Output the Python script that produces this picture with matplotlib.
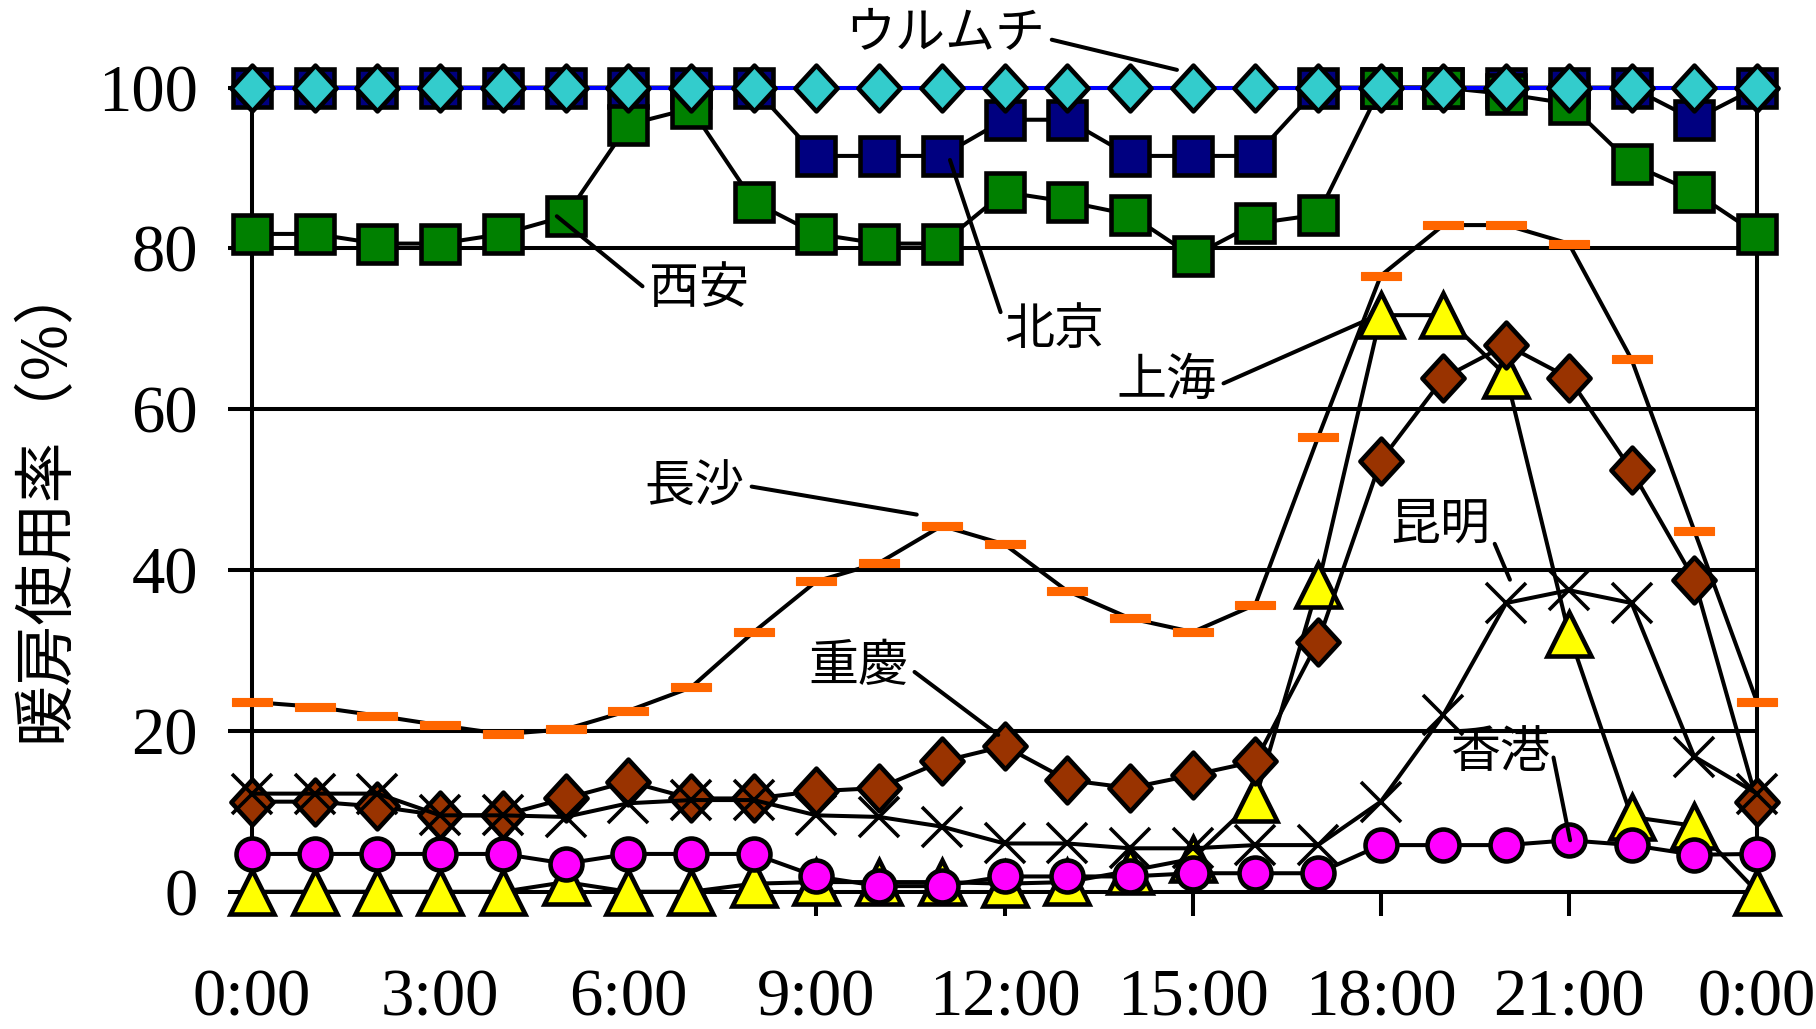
import matplotlib
matplotlib.use("Agg")
import matplotlib.pyplot as plt
from matplotlib.path import Path

# ─── DATA ────────────────────────────────────────────
hours = list(range(25))
tick_hours = [0, 3, 6, 9, 12, 15, 18, 21, 24]
tick_labels = ["0:00", "3:00", "6:00", "9:00", "12:00", "15:00", "18:00", "21:00", "0:00"]
y_ticks = [0, 20, 40, 60, 80, 100]

urumqi = [100, 100, 100, 100, 100, 100, 100, 100, 100, 100, 100, 100, 100,
          100, 100, 100, 100, 100, 100, 100, 100, 100, 100, 100, 100]
beijing = [100, 100, 100, 100, 100, 100, 100, 100, 100, 91.5, 91.5, 91.5, 96,
           96, 91.5, 91.5, 91.5, 100, 100, 100, 100, 100, 100, 96, 100]
xian = [81.8, 81.8, 80.6, 80.6, 81.8, 84.0, 95.4, 97.4, 85.8, 81.8, 80.6, 80.6, 87.0,
        85.8, 84.2, 79.0, 83.1, 84.2, 100, 100, 99.2, 98.0, 90.5, 87.0, 81.8]
changsha = [23.6, 23.0, 21.9, 20.7, 19.6, 20.2, 22.5, 25.4, 32.3, 38.6, 40.9, 45.5, 43.2,
            37.4, 34.0, 32.3, 35.7, 56.5, 76.6, 82.9, 82.9, 80.6, 66.2, 44.9, 23.6]
chongqing = [11.2, 11.2, 10.6, 9.5, 9.5, 11.6, 13.7, 11.6, 11.6, 12.5, 12.9, 16.2, 18.1,
             13.9, 12.9, 14.5, 16.2, 31.1, 53.6, 63.9, 68.0, 63.9, 52.4, 38.8, 11.2]
kunming = [12.2, 12.2, 12.2, 9.5, 9.5, 9.3, 11.0, 11.4, 11.4, 9.5, 9.3, 8.1, 6.0,
           6.0, 5.4, 5.4, 5.8, 5.8, 11.2, 22.0, 35.9, 37.5, 35.9, 16.8, 12.2]
shanghai = [0, 0, 0, 0, 0, 1.2, 0, 0, 1.0, 1.2, 1.2, 1.2, 1.0,
            1.2, 2.6, 4.1, 11.5, 38.1, 71.7, 71.7, 64.2, 32.1, 9.3, 8.2, 0]
hongkong = [4.7, 4.7, 4.7, 4.7, 4.7, 3.5, 4.7, 4.7, 4.7, 1.9, 0.7, 0.7, 1.9,
            1.9, 1.9, 2.3, 2.3, 2.3, 5.8, 5.8, 5.8, 6.4, 5.8, 4.6, 4.7]

# city labels: text centre, point the leader line goes to, where the line leaves the text
city_names = ["ウルムチ", "西安", "北京", "上海", "長沙", "昆明", "重慶", "香港"]
city_text_xy = [(11.05, 106.8), (7.12, 75.0), (12.80, 69.9), (14.59, 63.5),
                (7.06, 50.2), (18.95, 45.7), (9.67, 27.9), (19.90, 17.3)]
city_point_xy = [(14.75, 102.2), (4.86, 84.0), (11.13, 91.0), (17.78, 71.1),
                 (10.60, 46.9), (20.06, 38.8), (11.90, 19.5), (21.02, 6.4)]
city_relpos = [(1, 0.4), (0, 0.45), (0, 0.6), (1, 0.4),
               (1, 0.55), (0.95, 0.55), (1, 0.5), (1, 0.75)]

# ─── MARKER SHAPES ───────────────────────────────────
diamond = Path([(0, 1), (0.92, 0), (0, -1), (-0.92, 0), (0, 1)], closed=True)
dash = Path([(-1, -0.2), (1, -0.2), (1, 0.2), (-1, 0.2), (-1, -0.2)], closed=True)

CJK = ["Noto Sans CJK JP", "DejaVu Sans"]
SERIF = "Liberation Serif"
LW = 2.9     # lines and grid
EW = 3.3     # marker outlines

fig = plt.figure(figsize=(18.16, 10.29), dpi=100)
ax = fig.add_axes([0.1388, 0.1334, 0.8287, 0.7815])

# gridlines
for v in y_ticks[1:]:
    ax.axhline(v, color="black", lw=LW, zorder=1)

# series, bottom to top
ax.plot(hours, shanghai, color="black", lw=LW, marker="^", ms=31,
        mfc="#FFFF00", mec="black", mew=EW, zorder=3, clip_on=False)
ax.plot(hours, hongkong, color="black", lw=LW, marker="o", ms=23,
        mfc="#FF00FF", mec="black", mew=EW, zorder=4, clip_on=False)
ax.plot(hours, chongqing, color="black", lw=LW, marker=diamond, ms=33,
        mfc="#993300", mec="black", mew=EW, zorder=5, clip_on=False)
ax.plot(hours, kunming, color="black", lw=LW, marker="x", ms=29,
        mec="black", mew=2.6, zorder=6, clip_on=False)
ax.plot(hours, changsha, color="black", lw=LW, marker=dash, ms=29,
        mfc="#FF6600", mec="#FF6600", mew=0.8, zorder=7, clip_on=False)
ax.plot(hours, beijing, color="black", lw=LW, marker="s", ms=27.5,
        mfc="#000080", mec="black", mew=EW, zorder=8, clip_on=False)
ax.plot(hours, xian, color="black", lw=LW, marker="s", ms=27.5,
        mfc="#008000", mec="black", mew=EW, zorder=9, clip_on=False)
ax.plot(hours, urumqi, color="#0000FF", lw=LW, marker=diamond, ms=33,
        mfc="#33CCCC", mec="black", mew=EW, zorder=10, clip_on=False)

# city labels with leader lines
for name, txy, pxy, rp in zip(city_names, city_text_xy, city_point_xy, city_relpos):
    ax.annotate(name, xy=pxy, xytext=txy, xycoords="data", textcoords="data",
                ha="center", va="center", fontsize=36, family=CJK,
                annotation_clip=False, zorder=12,
                arrowprops=dict(arrowstyle="-", color="black", lw=LW,
                                shrinkA=3, shrinkB=0, relpos=rp))

ax.set_xlim(0, 24)
ax.set_ylim(0, 100)
ax.set_xticks(tick_hours)
ax.set_xticklabels(tick_labels)
ax.set_yticks(y_ticks)
ax.tick_params(axis="both", direction="out", length=17, width=LW,
               labelsize=48, color="black")
ax.tick_params(axis="x", pad=38)
ax.tick_params(axis="y", pad=22)
for lab in ax.get_xticklabels() + ax.get_yticklabels():
    lab.set_family(SERIF)
for sp in ax.spines.values():
    sp.set_linewidth(LW)
    sp.set_color("black")
    sp.set_zorder(2)

fig.text(0.0248, 0.514, "暖房使用率（%）", rotation=90, ha="center", va="center",
         fontsize=44, family=CJK)

fig.savefig("out.png", dpi=100)
